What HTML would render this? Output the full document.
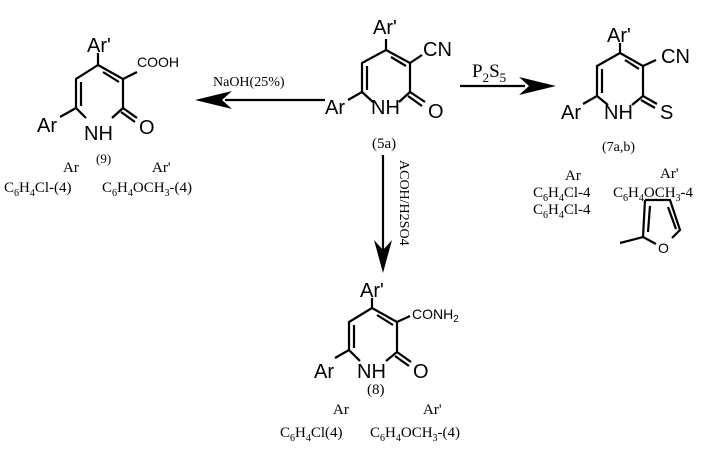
<!DOCTYPE html>
<html><head><meta charset="utf-8"><style>
body{margin:0;background:#fff;width:710px;height:447px;overflow:hidden}
.s{font-family:"Liberation Sans",sans-serif;font-size:20px}
.c{font-family:"Liberation Sans",sans-serif;font-size:14px;fill:#000}
.r{font-family:"Liberation Serif",serif;font-size:15px}
</style></head><body>
<svg width="710" height="447" viewBox="0 0 710 447" xmlns="http://www.w3.org/2000/svg">
<g stroke="#000" stroke-width="2.2" fill="none">
<path d="M98,65 L123,79 L123,108 M112,118 L123,108 M86,118 L76,108 L76,79 L98,65 M98,65 L98,53 M103,72 L119,82 M81,82 L81,106 M123,79 L137,72 M123,108 L137,118 M121,112 L135,122 M76,108 L60,117"/>
<path d="M386,50 L410,63 L410,92 M399,102 L410,92 M373,102 L362,92 L362,63 L386,50 M386,50 L386,39 M391,57 L406,66 M367,66 L367,90 M410,63 L422,55 M410,92 L425,102 M408,96 L422,106 M362,92 L348,100"/>
<path d="M620,53 L643,66 L643,96 M632,105 L643,96 M608,105 L597,96 L597,66 L620,53 M620,53 L620,43 M625,60 L639,69 M602,69 L602,93 M643,66 L656,60 M643,96 L657,104 M641,100 L655,108 M597,96 L583,104"/>
<path d="M372,308 L397,322 L397,352 M386,361 L397,352 M360,361 L349,350 L349,322 L372,308 M372,308 L372,298 M377,315 L393,325 M354,325 L354,348 M397,322 L410,316 M397,352 L411,362 M395,356 L409,366 M349,350 L335,358"/>
<path d="M645,200 L670,200 L680,230 L672,238 M656,244 L643,237 L645,200 M643,237 L620,243 M650,206 L648,232 M668,207 L676,229"/>
<path d="M325,100 L225,100 M460,86 L525,86 M383,155 L383,250"/>
</g>
<g fill="#000">
<polygon points="195,100 232,91 222,100 232,109"/>
<polygon points="556,86 519,77 529,86 519,95"/>
<polygon points="383,273 374,240 383,250 392,240"/>
</g>
<g class="s">
<text x="87" y="52">Ar'</text><text x="37" y="132">Ar</text><text x="84" y="140">NH</text><text x="139" y="134">O</text>
<text x="373" y="34">Ar'</text><text x="325" y="114">Ar</text><text x="371" y="114">NH</text><text x="428" y="118">O</text><text x="423" y="56">CN</text>
<text x="607" y="42">Ar'</text><text x="561" y="119">Ar</text><text x="604" y="119">NH</text><text x="660" y="119">S</text><text x="661" y="63">CN</text>
<text x="360" y="297">Ar'</text><text x="314" y="378">Ar</text><text x="357" y="378">NH</text><text x="413" y="378">O</text>
</g>
<text class="c" x="137" y="67">COOH</text>
<text class="c" x="412" y="319">CONH<tspan font-size="10" dy="3">2</tspan></text>
<text class="c" x="658" y="253" font-size="15">O</text>
<g class="r">
<text x="96" y="163" font-size="13">(9)</text>
<text x="63" y="172">Ar</text><text x="152" y="172">Ar'</text>
<text x="4" y="192">C<tspan font-size="10" dy="4">6</tspan><tspan dy="-4">H</tspan><tspan font-size="10" dy="4">4</tspan><tspan dy="-4">Cl-(4)</tspan></text>
<text x="102" y="192">C<tspan font-size="10" dy="4">6</tspan><tspan dy="-4">H</tspan><tspan font-size="10" dy="4">4</tspan><tspan dy="-4">OCH</tspan><tspan font-size="10" dy="4">3</tspan><tspan dy="-4">-(4)</tspan></text>
<text x="213" y="86" font-size="14">NaOH(25%)</text>
<text x="372" y="148">(5a)</text>
<text x="472" y="77" font-size="19">P<tspan font-size="13" dy="5">2</tspan><tspan dy="-5">S</tspan><tspan font-size="13" dy="5">5</tspan></text>
<text x="602" y="151" font-size="14">(7a,b)</text>
<text x="565" y="180">Ar</text><text x="660" y="178">Ar'</text>
<text x="533" y="197">C<tspan font-size="10" dy="4">6</tspan><tspan dy="-4">H</tspan><tspan font-size="10" dy="4">4</tspan><tspan dy="-4">Cl-4</tspan></text>
<text x="533" y="214">C<tspan font-size="10" dy="4">6</tspan><tspan dy="-4">H</tspan><tspan font-size="10" dy="4">4</tspan><tspan dy="-4">Cl-4</tspan></text>
<text x="613" y="197">C<tspan font-size="10" dy="4">6</tspan><tspan dy="-4">H</tspan><tspan font-size="10" dy="4">4</tspan><tspan dy="-4">OCH</tspan><tspan font-size="10" dy="4">3</tspan><tspan dy="-4">-4</tspan></text>
<text transform="translate(400,160) rotate(90)" font-size="14">ACOH/H2SO4</text>
<text x="367" y="394">(8)</text>
<text x="333" y="414">Ar</text><text x="423" y="414">Ar'</text>
<text x="280" y="437">C<tspan font-size="10" dy="4">6</tspan><tspan dy="-4">H</tspan><tspan font-size="10" dy="4">4</tspan><tspan dy="-4">Cl(4)</tspan></text>
<text x="370" y="437">C<tspan font-size="10" dy="4">6</tspan><tspan dy="-4">H</tspan><tspan font-size="10" dy="4">4</tspan><tspan dy="-4">OCH</tspan><tspan font-size="10" dy="4">3</tspan><tspan dy="-4">-(4)</tspan></text>
</g>
</svg>
</body></html>
